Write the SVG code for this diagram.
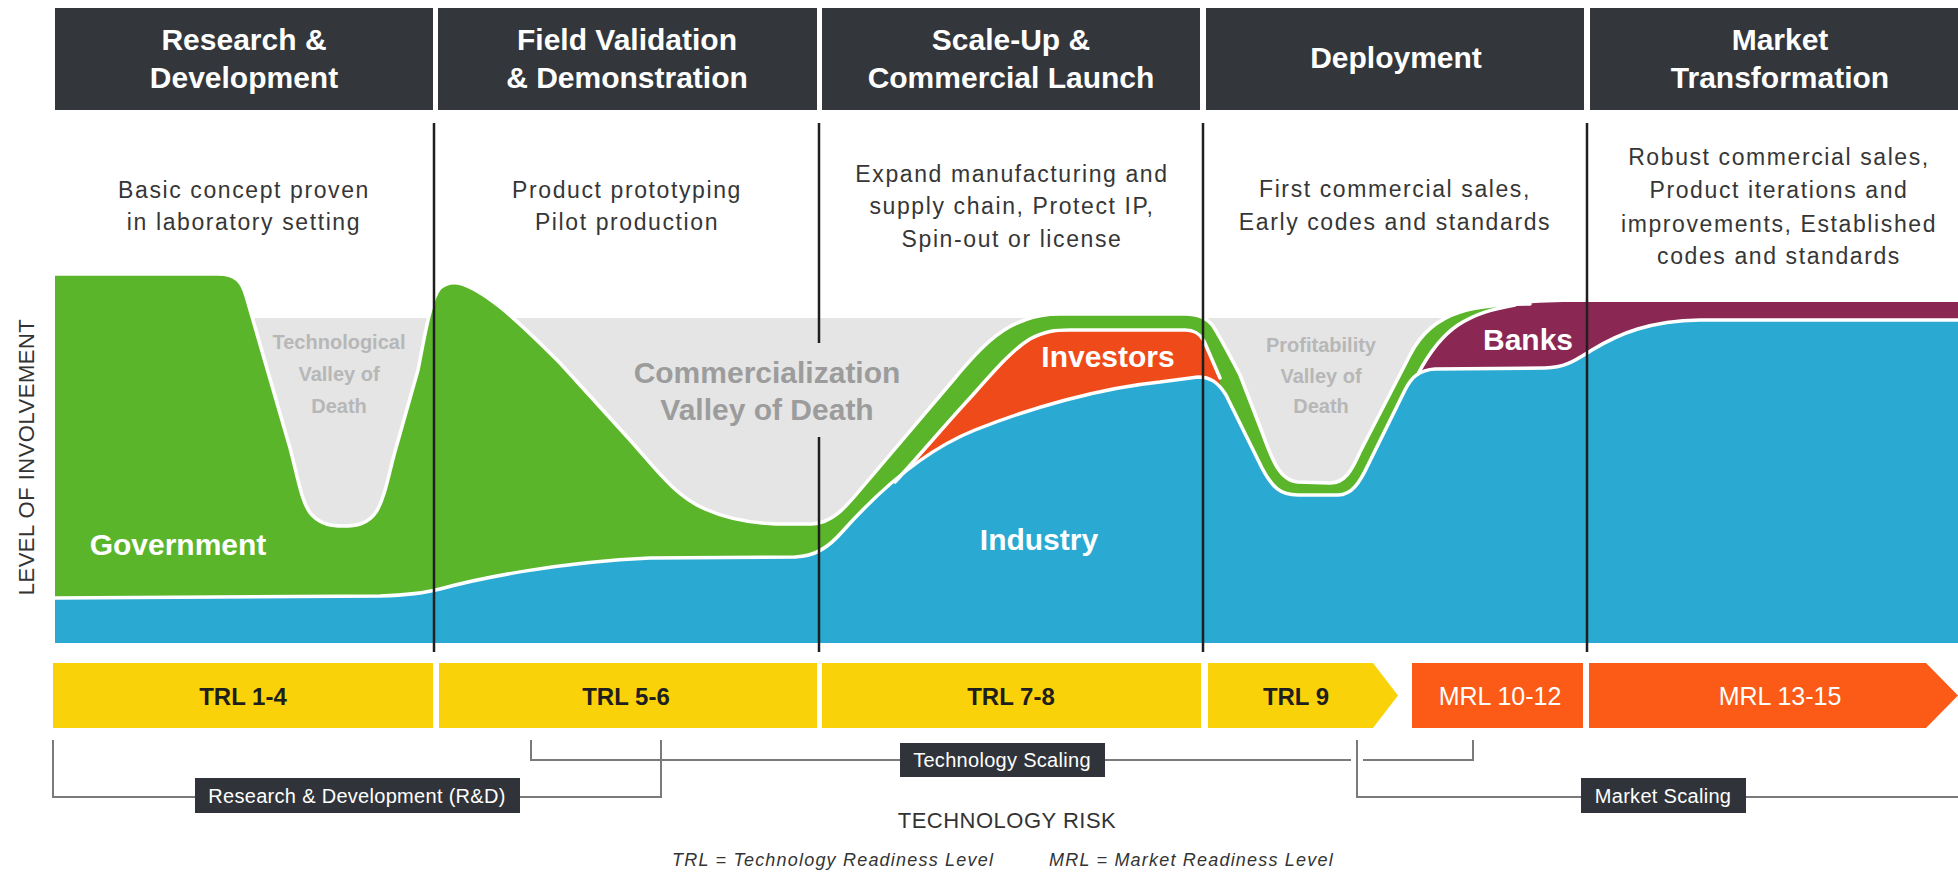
<svg xmlns="http://www.w3.org/2000/svg" width="1958" height="872" viewBox="0 0 1958 872">
  <style>
    .hdr { fill: #33373c; }
    .hdr-t { font-family: "Liberation Sans", Arial, sans-serif; font-weight: bold; font-size: 30px; fill: #ffffff; text-anchor: middle; }
    .desc { font-family: "Liberation Sans", Arial, sans-serif; font-size: 23px; letter-spacing: 1.6px; fill: #363636; text-anchor: middle; }
    .lbl { font-family: "Liberation Sans", Arial, sans-serif; font-weight: bold; font-size: 30px; fill: #ffffff; text-anchor: middle; }
    .valley-s { font-family: "Liberation Sans", Arial, sans-serif; font-weight: bold; font-size: 20px; fill: #b7b7b7; text-anchor: middle; }
    .valley-l { font-family: "Liberation Sans", Arial, sans-serif; font-weight: bold; font-size: 30px; fill: #9c9c9c; text-anchor: middle; }
    .edge { fill: none; stroke: #ffffff; stroke-width: 3.5; stroke-linejoin: round; stroke-linecap: round; }
    .divider { stroke: #1f1f1f; stroke-width: 2.5; }
    .trl { fill: #fad20a; }
    .mrl { fill: #fb5a17; }
    .trl-t { font-family: "Liberation Sans", Arial, sans-serif; font-weight: bold; font-size: 24px; fill: #1e1e1e; text-anchor: middle; }
    .mrl-t { font-family: "Liberation Sans", Arial, sans-serif; font-size: 25px; fill: #ffffff; text-anchor: middle; }
    .bracket { fill: none; stroke: #7a7a7a; stroke-width: 2; }
    .tag { fill: #30343a; }
    .tag-t { font-family: "Liberation Sans", Arial, sans-serif; font-size: 20px; letter-spacing: 0.3px; fill: #ffffff; text-anchor: middle; }
    .axis { font-family: "Liberation Sans", Arial, sans-serif; font-size: 22px; letter-spacing: 0.5px; fill: #333333; text-anchor: middle; }
    .note { font-family: "Liberation Sans", Arial, sans-serif; font-style: italic; font-size: 18px; letter-spacing: 1.2px; fill: #333333; }
  </style>

  <!-- stage headers -->
  <g id="stage-rd">
    <rect class="hdr" x="55" y="8" width="378" height="102"/>
    <text class="hdr-t" x="244" y="50">Research &amp;</text>
    <text class="hdr-t" x="244" y="88">Development</text>
    <text class="desc" x="244" y="198">Basic concept proven</text>
    <text class="desc" x="244" y="230">in laboratory setting</text>
  </g>
  <g id="stage-field">
    <rect class="hdr" x="438" y="8" width="379" height="102"/>
    <text class="hdr-t" x="627" y="50">Field Validation</text>
    <text class="hdr-t" x="627" y="88">&amp; Demonstration</text>
    <text class="desc" x="627" y="198">Product prototyping</text>
    <text class="desc" x="627" y="230">Pilot production</text>
  </g>
  <g id="stage-scaleup">
    <rect class="hdr" x="822" y="8" width="378" height="102"/>
    <text class="hdr-t" x="1011" y="50">Scale-Up &amp;</text>
    <text class="hdr-t" x="1011" y="88">Commercial Launch</text>
    <text class="desc" x="1012" y="182">Expand manufacturing and</text>
    <text class="desc" x="1012" y="214">supply chain, Protect IP,</text>
    <text class="desc" x="1012" y="247">Spin-out or license</text>
  </g>
  <g id="stage-deployment">
    <rect class="hdr" x="1206" y="8" width="378" height="102"/>
    <text class="hdr-t" x="1396" y="68">Deployment</text>
    <text class="desc" x="1395" y="197">First commercial sales,</text>
    <text class="desc" x="1395" y="230">Early codes and standards</text>
  </g>
  <g id="stage-market">
    <rect class="hdr" x="1590" y="8" width="368" height="102"/>
    <text class="hdr-t" x="1780" y="50">Market</text>
    <text class="hdr-t" x="1780" y="88">Transformation</text>
    <text class="desc" x="1779" y="165">Robust commercial sales,</text>
    <text class="desc" x="1779" y="198">Product iterations and</text>
    <text class="desc" x="1779" y="232">improvements, Established</text>
    <text class="desc" x="1779" y="264">codes and standards</text>
  </g>

  <!-- involvement chart -->
  <g id="chart">
    <rect x="240" y="318" width="1230" height="260" fill="#e5e5e5"/>
    <!-- government -->
    <path id="gov" fill="#5bb52b" d="M55,274 L218,274 C236,274 242,282 246,296 L290,448 C298,478 302,505 312,515 C322,525 332,526 343,526 C356,526 368,524 376,512 C384,500 388,478 394,455 L418,370 C424,340 430,300 440,288 C446,283 452,282 458,283 C472,286 485,295 500,307 C520,323 540,343 560,363 L630,440 C655,468 675,496 705,509 C725,518 750,523 776,524 L812,524 C832,523 845,508 860,490 L955,378 C980,348 1000,328 1025,320 C1035,316 1045,314 1060,314 L1185,314 C1198,314 1207,318 1213,326 C1222,340 1232,360 1240,375 L1262,432 C1272,460 1280,481 1298,482 L1330,483 C1345,483 1352,470 1360,452 L1410,355 C1420,335 1435,320 1460,312 C1480,306 1505,304 1530,304 L1958,303 L1958,643 L55,643 Z"/>
    <!-- investors -->
    <path id="investors" fill="#ee4a1a" d="M895,482 C920,455 945,425 970,398 C995,370 1012,350 1030,339 C1045,331 1055,330 1070,330 L1185,330 C1195,330 1200,334 1204,341 L1220,376 L1224,643 L895,643 Z"/>
    <!-- banks -->
    <path id="banks" fill="#8a2753" d="M1418,374 C1428,355 1440,337 1458,325 C1475,314 1492,309 1515,305 C1540,302 1560,302 1590,302 L1958,302 L1958,643 L1418,643 Z"/>
    <!-- industry -->
    <path id="industry" fill="#2aaad2" d="M55,598 L380,596 C410,595 425,593 440,589 C480,578 560,562 650,558 L795,557 C815,556 828,548 842,532 C875,495 920,452 975,430 C1030,408 1100,388 1160,382 L1198,377 C1210,377 1218,382 1226,395 L1262,468 C1272,487 1280,495 1298,495 L1338,495 C1352,495 1360,482 1368,465 L1405,390 C1412,376 1420,370 1435,369 L1545,368 C1565,368 1576,360 1592,350 C1620,333 1650,321 1700,320 L1958,320 L1958,643 L55,643 Z"/>
    <!-- white seams between bands -->
    <path class="edge" d="M55,274 L218,274 C236,274 242,282 246,296 L290,448 C298,478 302,505 312,515 C322,525 332,526 343,526 C356,526 368,524 376,512 C384,500 388,478 394,455 L418,370 C424,340 430,300 440,288 C446,283 452,282 458,283 C472,286 485,295 500,307 C520,323 540,343 560,363 L630,440 C655,468 675,496 705,509 C725,518 750,523 776,524 L812,524 C832,523 845,508 860,490 L955,378 C980,348 1000,328 1025,320 C1035,316 1045,314 1060,314 L1185,314 C1198,314 1207,318 1213,326 C1222,340 1232,360 1240,375 L1262,432 C1272,460 1280,481 1298,482 L1330,483 C1345,483 1352,470 1360,452 L1410,355 C1420,335 1435,320 1460,312 C1480,306 1505,304 1530,304"/>
    <path class="edge" d="M895,482 C920,455 945,425 970,398 C995,370 1012,350 1030,339 C1045,331 1055,330 1070,330 L1185,330 C1195,330 1200,334 1204,341 L1220,378"/>
    <path class="edge" d="M1418,374 C1428,355 1440,337 1458,325 C1475,314 1492,309 1515,305"/>
    <path class="edge" d="M55,598 L380,596 C410,595 425,593 440,589 C480,578 560,562 650,558 L795,557 C815,556 828,548 842,532 C875,495 920,452 975,430 C1030,408 1100,388 1160,382 L1198,377 C1210,377 1218,382 1226,395 L1262,468 C1272,487 1280,495 1298,495 L1338,495 C1352,495 1360,482 1368,465 L1405,390 C1412,376 1420,370 1435,369 L1545,368 C1565,368 1576,360 1592,350 C1620,333 1650,321 1700,320 L1958,320"/>

    <text class="valley-s" x="339" y="349">Technological</text>
    <text class="valley-s" x="339" y="381">Valley of</text>
    <text class="valley-s" x="339" y="413">Death</text>
    <text class="valley-l" x="767" y="383">Commercialization</text>
    <text class="valley-l" x="767" y="420">Valley of Death</text>
    <text class="valley-s" x="1321" y="352">Profitability</text>
    <text class="valley-s" x="1321" y="383">Valley of</text>
    <text class="valley-s" x="1321" y="413">Death</text>

    <text class="lbl" x="178" y="555">Government</text>
    <text class="lbl" x="1039" y="550">Industry</text>
    <text class="lbl" x="1108" y="367" font-size="29">Investors</text>
    <text class="lbl" x="1528" y="350">Banks</text>
  </g>

  <!-- stage dividers -->
  <g id="dividers">
    <line class="divider" x1="434" y1="123" x2="434" y2="652"/>
    <line class="divider" x1="819" y1="123" x2="819" y2="343"/>
    <line class="divider" x1="819" y1="437" x2="819" y2="652"/>
    <line class="divider" x1="1203" y1="123" x2="1203" y2="652"/>
    <line class="divider" x1="1587" y1="123" x2="1587" y2="652"/>
  </g>

  <text class="axis" x="34" y="457" transform="rotate(-90 34 457)">LEVEL OF INVOLVEMENT</text>

  <!-- readiness levels -->
  <g id="trl-1-4">
    <rect class="trl" x="53" y="663" width="380" height="65"/>
    <text class="trl-t" x="243" y="705">TRL 1-4</text>
  </g>
  <g id="trl-5-6">
    <rect class="trl" x="439" y="663" width="378" height="65"/>
    <text class="trl-t" x="626" y="705">TRL 5-6</text>
  </g>
  <g id="trl-7-8">
    <rect class="trl" x="822" y="663" width="379" height="65"/>
    <text class="trl-t" x="1011" y="705">TRL 7-8</text>
  </g>
  <g id="trl-9">
    <polygon class="trl" points="1208,663 1373,663 1398,695.5 1373,728 1208,728"/>
    <text class="trl-t" x="1296" y="705">TRL 9</text>
  </g>
  <g id="mrl-10-12">
    <rect class="mrl" x="1412" y="663" width="171" height="65"/>
    <text class="mrl-t" x="1500" y="705">MRL 10-12</text>
  </g>
  <g id="mrl-13-15">
    <polygon class="mrl" points="1589,663 1926,663 1958,695.5 1926,728 1589,728"/>
    <text class="mrl-t" x="1780" y="705">MRL 13-15</text>
  </g>

  <!-- scaling brackets -->
  <g id="brackets">
    <path class="bracket" d="M53,740 V797 H195 M520,797 H661 V740"/>
    <path class="bracket" d="M531,740 V760 H900 M1105,760 H1351 M1363,760 H1473 V740"/>
    <path class="bracket" d="M1357,740 V797 H1581 M1746,797 H1958"/>
  </g>
  <g id="tag-rd">
    <rect class="tag" x="195" y="778" width="325" height="35"/>
    <text class="tag-t" x="357" y="803">Research &amp; Development (R&amp;D)</text>
  </g>
  <g id="tag-tech">
    <rect class="tag" x="900" y="743" width="205" height="34"/>
    <text class="tag-t" x="1002" y="767">Technology Scaling</text>
  </g>
  <g id="tag-market">
    <rect class="tag" x="1581" y="778" width="165" height="35"/>
    <text class="tag-t" x="1663" y="803">Market Scaling</text>
  </g>

  <text class="axis" x="1007" y="828">TECHNOLOGY RISK</text>
  <text class="note" x="672" y="866">TRL = Technology Readiness Level</text>
  <text class="note" x="1049" y="866">MRL = Market Readiness Level</text>
</svg>
